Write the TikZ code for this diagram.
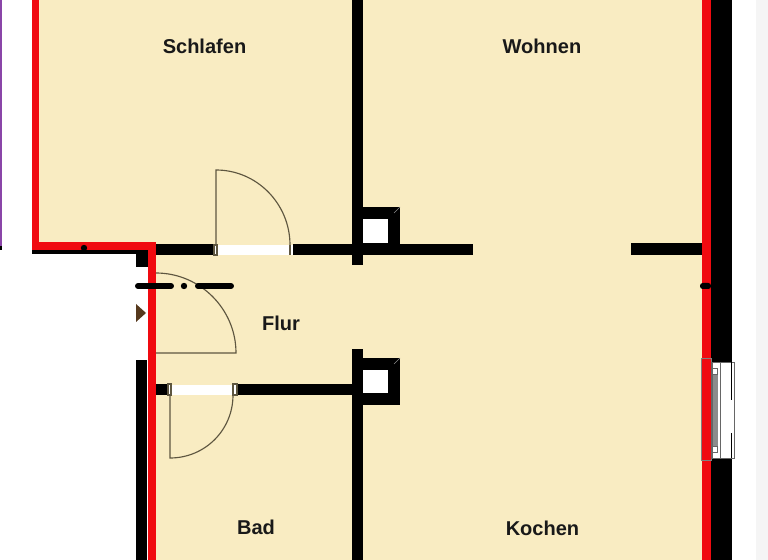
\documentclass[tikz,border=0pt]{standalone}
\usepackage{fontspec}
\setmainfont{Liberation Sans}
\usepackage{tikz}
\definecolor{floorcol}{HTML}{F9ECC2}
\definecolor{wallred}{HTML}{F00A10}
\definecolor{doorcol}{HTML}{5E5640}
\definecolor{sidecol}{HTML}{8A45A8}
\tikzset{
  wall/.style={fill=black,draw=none},
  redwall/.style={fill=wallred,draw=none},
  opening/.style={fill=white,draw=none},
  leaf/.style={draw=doorcol,line width=0.65pt},
  roomlabel/.style={font=\fontsize{11.4}{13}\selectfont\bfseries,text=black!90},
}

\begin{document}
\begin{tikzpicture}[x=0.02cm,y=-0.02cm]
\useasboundingbox (0,0) rectangle (768,560);
\fill[white] (0,0) rectangle (768,560);
\fill[black!4] (756,0) rectangle (768,560);
\fill[sidecol] (0,0) rectangle (2,246);
\fill[black] (0,246) rectangle (2,250);
% floor
\fill[floorcol] (34,0) -- (708,0) -- (708,560) -- (150,560) -- (150,250) -- (34,250) -- cycle;

% outer walls
\draw[wall] (32,250) rectangle (148,254);
\draw[wall] (136,253) rectangle (148,267);
\draw[wall] (136,360) rectangle (147,560);
\draw[wall] (711,0) rectangle (732,362);
\draw[wall] (711,458) rectangle (732,560);
\draw[redwall] (32,0) rectangle (39,250);
\draw[redwall] (32,242) rectangle (156,250);
\draw[redwall] (148,242) rectangle (156,560);
\draw[redwall] (702,0) rectangle (711,560);
\fill[black] (84,248) circle (3.2);
\draw[wall,rounded corners=1.5] (700,283) rectangle (711,289);

% inner walls
\draw[wall] (156,244) rectangle (214,255);
\draw[wall] (293,244) rectangle (473,255);
\draw[wall] (631,243) rectangle (702,255);
\draw[wall] (352,0) rectangle (363,265);
\draw[wall] (156,384) rectangle (168,395);
\draw[wall] (237,384) rectangle (352,395);
\draw[wall] (352,349) rectangle (363,560);

% chimneys
\draw[wall] (362,207) rectangle (400,244);
\draw[opening] (363,219) rectangle (388,243);
\draw[black!45,thin] (400,207) -- (394,213);
\draw[wall] (362,358) rectangle (400,405);
\draw[opening] (363,370) rectangle (388,393);
\draw[black!45,thin] (400,358) -- (394,364);

% doors
\draw[opening] (214,245) rectangle (293,255);
\draw[leaf] (214,245) rectangle (217,255);
\draw[leaf] (216,245) -- (216,170) .. controls (257,170) and (290,204) .. (290,245);
\draw[leaf] (290,245) -- (290,255);
\draw[leaf] (156,273) .. controls (200,273) and (236,309) .. (236,353) -- (156,353);
\draw[opening] (168,385) rectangle (237,395);
\draw[leaf,fill=white] (168,384) rectangle (171,395);
\draw[leaf,fill=white] (233,384) rectangle (237,395);
\draw[leaf] (170,395) -- (170,458) .. controls (205,458) and (233,430) .. (233,395);

% dash dot line and marker
\draw[black,line width=3.4pt,line cap=round] (138,286) -- (171,286);
\fill[black] (184,286) circle (3.2);
\draw[black,line width=3.4pt,line cap=round] (198,286) -- (231,286);
\fill[black!55!brown] (136,304) -- (146,313) -- (136,322) -- cycle;

% window
\fill[white] (711,362) rectangle (734,458);
\draw[black!50,thin] (701,358) rectangle (711,460);
\draw[black!60,thin] (711,362) rectangle (734,458);
\draw[black!60,thin] (712,362) -- (712,458);
\draw[black!60,thin] (720,362) -- (720,458);
\fill[black!45] (713,368) rectangle (718,452);
\draw[black!60,fill=white,very thin] (712.5,368) rectangle (717.5,374);
\draw[black!60,fill=white,very thin] (712.5,446) rectangle (717.5,452);
\draw[black,thin] (731,400) -- (731,362);
\draw[black,thin] (731,433) -- (731,458);

% labels
\node[roomlabel] (schlafen) at (204.5,46) {Schlafen};
\node[roomlabel] (wohnen) at (542,46) {Wohnen};
\node[roomlabel] (flur) at (281,323) {Flur};
\node[roomlabel] (bad) at (256,527) {Bad};
\node[roomlabel] (kochen) at (542.5,528) {Kochen};
\end{tikzpicture}
\end{document}
